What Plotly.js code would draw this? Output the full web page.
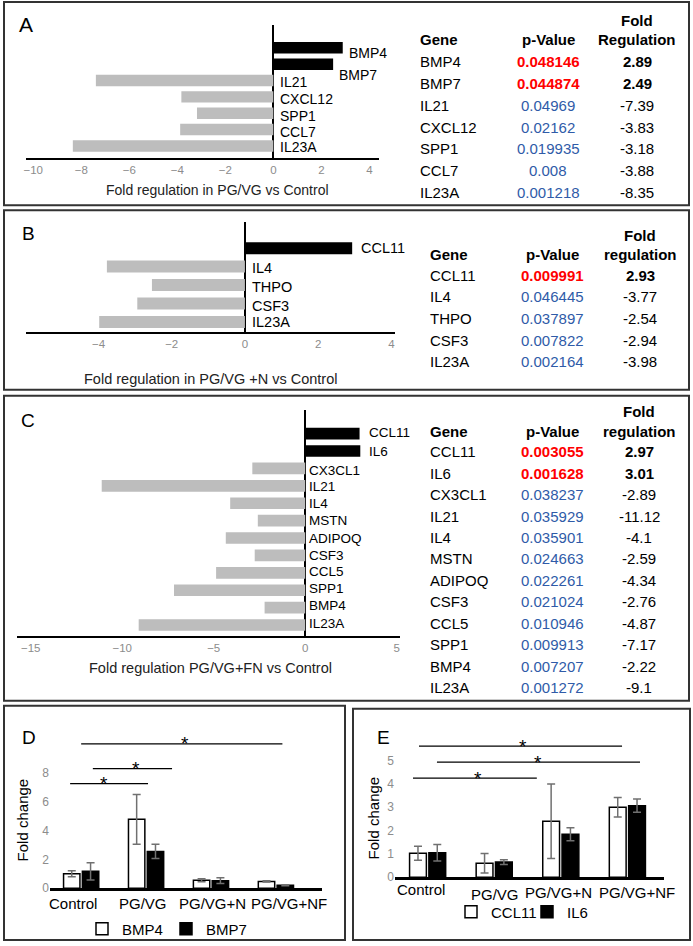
<!DOCTYPE html>
<html><head><meta charset="utf-8">
<script src="https://cdn.plot.ly/plotly-3.0.1.min.js"></script>
<style>html,body{margin:0;padding:0;background:#fff}#chart{width:693px;height:946px}</style>
</head><body><div id="chart"></div>
<script>
// ---------- DATA ----------
const genesA = ['BMP4','BMP7','IL21','CXCL12','SPP1','CCL7','IL23A'];
const pvalA  = ['0.048146','0.044874','0.04969','0.02162','0.019935','0.008','0.001218'];
const foldA  = [2.89, 2.49, -7.39, -3.83, -3.18, -3.88, -8.35];

const genesB = ['CCL11','IL4','THPO','CSF3','IL23A'];
const pvalB  = ['0.009991','0.046445','0.037897','0.007822','0.002164'];
const foldB  = [2.93, -3.77, -2.54, -2.94, -3.98];

const genesC = ['CCL11','IL6','CX3CL1','IL21','IL4','MSTN','ADIPOQ','CSF3','CCL5','SPP1','BMP4','IL23A'];
const pvalC  = ['0.003055','0.001628','0.038237','0.035929','0.035901','0.024663','0.022261','0.021024','0.010946','0.009913','0.007207','0.001272'];
const foldC  = [2.97, 3.01, -2.89, -11.12, -4.1, -2.59, -4.34, -2.76, -4.87, -7.17, -2.22, -9.1];

const groups   = ['Control','PG/VG','PG/VG+N','PG/VG+NF'];
const bmp4     = [1.0, 4.77, 0.55, 0.47];
const bmp4Err  = [0.2, 1.72, 0.1, 0.05];
const bmp7     = [1.17, 2.55, 0.52, 0.2];
const bmp7Err  = [0.6, 0.5, 0.2, 0.03];

const ccl11    = [1.03, 0.6, 2.4, 3.0];
const ccl11Err = [0.3, 0.42, 1.6, 0.42];
const il6      = [1.05, 0.65, 1.84, 3.07];
const il6Err   = [0.35, 0.1, 0.28, 0.28];

// significance brackets (category index units, fold-change units)
const sigD = [{x0:-0.17, x1:1.03, y:7.24, sx:0.35}, {x0:0.18, x1:1.4, y:8.28, sx:0.85}, {x0:0.0, x1:3.1, y:10.0, sx:1.6}];
const sigE = [{x0:-0.13, x1:2.92, y:5.62, sx:1.43}, {x0:0.14, x1:3.19, y:4.94, sx:1.66}, {x0:-0.22, x1:1.64, y:4.25, sx:0.76}];

// ---------- LAYOUT HELPERS ----------
const W = 693, H = 946;
const PX = x => x / W, PY = y => 1 - y / H;
const FONT = 'Liberation Sans, Arial, Helvetica, sans-serif';
const annotations = [];
const shapes = [];
function f(size, color, family) { return {family: family || FONT, size: size, color: color || '#000'}; }
function ann(x, y, text, o) {
  annotations.push(Object.assign({xref:'paper', yref:'paper', x:PX(x), y:PY(y), text:text, showarrow:false,
    font:f(15), xanchor:'center', yanchor:'middle'}, o || {}));
}
function box(x0, y0, x1, y1) {
  shapes.push({type:'rect', xref:'paper', yref:'paper', x0:PX(x0), x1:PX(x1), y0:PY(y0), y1:PY(y1),
    line:{color:'#333', width:2}, fillcolor:'rgba(0,0,0,0)'});
}
function table(genes, pv, fold, c) {
  ann(c.fx, c.y0, '<b>Fold</b>');
  ann(c.gx, c.y1, '<b>Gene</b>', {xanchor:'left'});
  ann(c.px, c.y1, '<b>p-Value</b>');
  ann(c.fx, c.y1, '<b>' + c.fh + '</b>');
  genes.forEach((g, i) => {
    const y = c.r0 + i * c.dy, sig = fold[i] > 0;
    ann(c.gx, y, g, {xanchor:'left'});
    ann(c.px, y, sig ? '<b>' + pv[i] + '</b>' : pv[i], {font:f(15, sig ? '#ff0000' : '#2f5ba8')});
    ann(c.fx, y, sig ? '<b>' + fold[i] + '</b>' : String(fold[i]));
  });
}
function geneLabels(genes, fold, xr, yr, size, negShift, posShift, yShifts) {
  genes.forEach((g, i) => {
    const pos = fold[i] > 0;
    annotations.push({xref:xr, yref:yr, x: pos ? fold[i] : 0, y:g, text:g, showarrow:false,
      xanchor:'left', yanchor:'middle', xshift: pos ? posShift : negShift, yshift: yShifts ? yShifts[i] : 0,
      font:f(size)});
  });
}
function groupLabels(xr, yPix, xShifts) {
  groups.forEach((g, i) => {
    annotations.push({xref:xr, yref:'paper', x:g, y:PY(yPix[i]), text:g, showarrow:false,
      xanchor:'center', yanchor:'middle', xshift:xShifts[i], font:f(15)});
  });
}
const tickGray = f(11.5, '#8c8c8c');

// ---------- TRACES ----------
const data = [
  {type:'bar', orientation:'h', x:foldA, y:genesA, xaxis:'x', yaxis:'y', width:0.7, showlegend:false,
   marker:{color:foldA.map(v => v > 0 ? '#000' : '#bdbdbd')}, hoverinfo:'x+y'},
  {type:'bar', orientation:'h', x:foldB, y:genesB, xaxis:'x2', yaxis:'y2', width:0.65, showlegend:false,
   marker:{color:foldB.map(v => v > 0 ? '#000' : '#bdbdbd')}, hoverinfo:'x+y'},
  {type:'bar', orientation:'h', x:foldC, y:genesC, xaxis:'x3', yaxis:'y3', width:0.67, showlegend:false,
   marker:{color:foldC.map(v => v > 0 ? '#000' : '#bdbdbd')}, hoverinfo:'x+y'},
  {type:'bar', name:'BMP4', x:groups, y:bmp4, xaxis:'x4', yaxis:'y4', legend:'legend',
   marker:{color:'#fff', line:{color:'#000', width:1.5}},
   error_y:{type:'data', array:bmp4Err, color:'#707070', thickness:1.5, width:4}},
  {type:'bar', name:'BMP7', x:groups, y:bmp7, xaxis:'x4', yaxis:'y4', legend:'legend',
   marker:{color:'#000', line:{color:'#000', width:1.5}},
   error_y:{type:'data', array:bmp7Err, color:'#707070', thickness:1.5, width:4}},
  {type:'bar', name:'CCL11', x:groups, y:ccl11, xaxis:'x5', yaxis:'y5', legend:'legend2',
   marker:{color:'#fff', line:{color:'#000', width:1.5}},
   error_y:{type:'data', array:ccl11Err, color:'#707070', thickness:1.5, width:4}},
  {type:'bar', name:'IL6', x:groups, y:il6, xaxis:'x5', yaxis:'y5', legend:'legend2',
   marker:{color:'#000', line:{color:'#000', width:1.5}},
   error_y:{type:'data', array:il6Err, color:'#707070', thickness:1.5, width:4}}
];

// ---------- ANNOTATIONS ----------
box(4, 2, 689, 206);
box(4, 211, 689, 391);
box(4, 397, 689, 703);
box(4, 708, 345, 943);
box(353, 711, 690, 943);

ann(26, 25, 'A', {font:f(21)});
ann(28, 234, 'B', {font:f(19)});
ann(28, 422, 'C', {font:f(19)});
ann(29, 740, 'D', {font:f(19)});
ann(383, 740, 'E', {font:f(19)});

ann(217, 191, 'Fold regulation in PG/VG vs Control', {font:f(14, '#222')});
ann(211, 380, 'Fold regulation in PG/VG +N vs Control', {font:f(14.5, '#222')});
ann(210, 670, 'Fold regulation PG/VG+FN vs Control', {font:f(14.5, '#222')});
ann(22, 823, 'Fold change', {textangle:-90, font:f(15)});
ann(373, 820, 'Fold change', {textangle:-90, font:f(15)});

table(genesA, pvalA, foldA, {gx:418, px:548, fx:637, y0:21, y1:40, r0:62, dy:21.85, fh:'Regulation'});
table(genesB, pvalB, foldB, {gx:428, px:552, fx:640, y0:236, y1:255, r0:276, dy:21.75, fh:'regulation'});
table(genesC, pvalC, foldC, {gx:428, px:552, fx:639, y0:413, y1:433, r0:453, dy:21.55, fh:'regulation'});

geneLabels(genesA, foldA, 'x', 'y', 14, 5, 4, [-5, -11, -1, -2, -3, -2, -1]);
geneLabels(genesB, foldB, 'x2', 'y2', 14.5, 5, 7, [0, -1, -2, -2, 0]);
geneLabels(genesC, foldC, 'x3', 'y3', 13.5, 2, 7, [1, 0, -2, -1, 0, 0, 0, 0, 1, 2, 2, 2]);

groupLabels('x4', [906, 906, 906, 906], [-8, -3, 2, 13]);
groupLabels('x5', [892, 897, 895, 895], [-7, 1, -2, 10]);

sigD.forEach(s => {
  shapes.push({type:'line', xref:'x4', yref:'y4', x0:s.x0, x1:s.x1, y0:s.y, y1:s.y, line:{color:'#000', width:1.3}});
  annotations.push({xref:'x4', yref:'y4', x:s.sx, y:s.y, text:'*', showarrow:false, yanchor:'middle', font:f(19)});
});
sigE.forEach(s => {
  shapes.push({type:'line', xref:'x5', yref:'y5', x0:s.x0, x1:s.x1, y0:s.y, y1:s.y, line:{color:'#000', width:1.3}});
  annotations.push({xref:'x5', yref:'y5', x:s.sx, y:s.y, text:'*', showarrow:false, yanchor:'middle', font:f(19)});
});

const hAxis = (dom, range, tickvals, anchor) => ({domain:[PX(dom[0]), PX(dom[1])], range:range, anchor:anchor,
  tickvals:tickvals, showline:true, linecolor:'#000', linewidth:2, zeroline:true, zerolinecolor:'#000', zerolinewidth:2,
  showgrid:false, ticks:'', tickfont:tickGray, fixedrange:true});
const catAxis = (dom, cats, range, anchor) => ({domain:[PY(dom[1]), PY(dom[0])], type:'category', categoryorder:'array',
  categoryarray:cats, range:range, anchor:anchor, showticklabels:false, showgrid:false, zeroline:false, showline:false,
  ticks:'', fixedrange:true});

const layout = {
  width:W, height:H, margin:{l:0, r:0, t:0, b:0}, paper_bgcolor:'#fff', plot_bgcolor:'rgba(0,0,0,0)',
  font:{family:FONT, color:'#000'},
  barmode:'group', bargap:0.42, bargroupgap:0.13,
  xaxis:  hAxis([26, 379], [-10.3, 4.4], [-10,-8,-6,-4,-2,0,2,4], 'y'),
  yaxis:  catAxis([25, 159], genesA, [6.77, -1.4], 'x'),
  xaxis2: hAxis([26, 395], [-5.98, 4.1], [-6,-4,-2,0,2,4], 'y2'),
  yaxis2: catAxis([223, 333], genesB, [4.54, -1.4], 'x2'),
  xaxis3: hAxis([17, 400], [-15.75, 5.18], [-15,-10,-5,0,5], 'y3'),
  yaxis3: catAxis([411, 638], genesC, [11.63, -1.375], 'x3'),
  xaxis4: {domain:[PX(50), PX(322)], anchor:'y4', type:'category', range:[-0.48, 3.71], showline:true, linecolor:'#000',
    linewidth:2.5, ticks:'', showticklabels:false, showgrid:false, zeroline:false, fixedrange:true},
  yaxis4: {domain:[PY(891), PY(739)], anchor:'x4', range:[0, 10.5], tickvals:[0,2,4,6,8], showgrid:false, zeroline:false,
    showline:false, ticks:'', tickfont:f(12, '#8c8c8c'), fixedrange:true},
  xaxis5: {domain:[PX(395), PX(664)], anchor:'y5', type:'category', range:[-0.49, 3.55], showline:true, linecolor:'#000',
    linewidth:2.5, ticks:'', showticklabels:false, showgrid:false, zeroline:false, fixedrange:true},
  yaxis5: {domain:[PY(880), PY(742)], anchor:'x5', range:[0, 5.9], tickvals:[0,1,2,3,4,5], showgrid:false, zeroline:false,
    showline:false, ticks:'', tickfont:f(12, '#8c8c8c'), fixedrange:true},
  legend:  {orientation:'h', x:PX(82), xanchor:'left', y:PY(932), yanchor:'middle', font:f(15), bgcolor:'rgba(0,0,0,0)',
    entrywidth:39, entrywidthmode:'pixels', itemwidth:30},
  legend2: {orientation:'h', x:PX(451), xanchor:'left', y:PY(915), yanchor:'middle', font:f(15), bgcolor:'rgba(0,0,0,0)',
    entrywidth:31, entrywidthmode:'pixels', itemwidth:30},
  annotations:annotations,
  shapes:shapes
};

Plotly.newPlot('chart', data, layout, {staticPlot:true, displayModeBar:false});
</script>
</body></html>
